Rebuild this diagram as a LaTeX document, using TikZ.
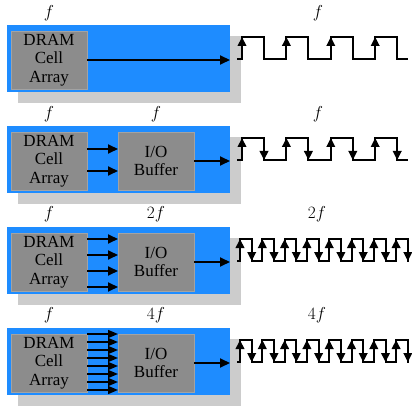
\documentclass[tikz,border=0pt]{standalone}
\usepackage{fontspec}
\setmainfont{Liberation Serif}
\usetikzlibrary{arrows.meta}
\definecolor{chipblue}{RGB}{30,140,255}
\definecolor{cellgray}{RGB}{140,140,140}
\definecolor{shadowgray}{RGB}{204,204,204}
\tikzset{
  shadowbox/.style={fill=shadowgray, draw=none, anchor=north west, minimum width=223pt, minimum height=67pt, inner sep=0pt, outer sep=0pt},
  chipbox/.style={fill=chipblue, draw=none, anchor=north west, minimum width=223pt, minimum height=67pt, inner sep=0pt, outer sep=0pt},
  cellbox/.style={fill=cellgray, draw=cellgray!80!white, line width=0.6pt, anchor=north west, minimum width=76pt, minimum height=58pt, inner sep=0pt, outer sep=0pt, align=center, font=\fontsize{17}{18.5}\selectfont},
  freqlab/.style={font=\fontsize{17}{19}\selectfont, inner sep=0pt},
  sig/.style={line width=2pt, -{Triangle[length=10pt,width=9pt]}},
  wave/.style={line width=2pt, line join=miter},
  edge/.style={line width=2pt, -{Triangle[length=9pt,width=8.5pt]}},
}
\begin{document}
\begin{tikzpicture}[x=1pt,y=-1pt]
\useasboundingbox (0,0) rectangle (412,406);

% ---------- Row 1 ----------
\node[shadowbox] (s1) at (18,36) {};
\node[chipbox] (b1) at (7,25) {};
\node[cellbox] (d1) at (11,31) {DRAM\\Cell\\Array};
\node[freqlab] (l1a) at (49,13) {$f$};
\node[freqlab] (l1w) at (318,13) {$f$};
\draw[sig] (d1.east) -- (d1.east -| b1.east);
\draw[wave] (237,59) foreach \k in {0,...,3} { -- ({242+44.4*\k},59) -- ({242+44.4*\k},37) -- ({264+44.4*\k},37) -- ({264+44.4*\k},59) } -- (408,59);
\foreach \k in {0,...,3} { \draw[edge] ({242+44.4*\k},59) -- ({242+44.4*\k},37); }

% ---------- Row 2 ----------
\node[shadowbox] (s2) at (18,137) {};
\node[chipbox] (b2) at (7,126) {};
\node[cellbox] (d2) at (11,132) {DRAM\\Cell\\Array};
\node[cellbox] (o2) at (118,132) {I/O\\Buffer};
\node[freqlab] (l2a) at (49,114) {$f$};
\node[freqlab] (l2b) at (156,114) {$f$};
\node[freqlab] (l2w) at (318,114) {$f$};
\foreach \yy in {149,171} { \draw[sig] (d2.east |- 0,\yy) -- (o2.west |- 0,\yy); }
\draw[sig] (o2.east) -- (o2.east -| b2.east);
\draw[wave] (237,160) foreach \k in {0,...,3} { -- ({242+44.4*\k},160) -- ({242+44.4*\k},138) -- ({264+44.4*\k},138) -- ({264+44.4*\k},160) } -- (408,160);
\foreach \k in {0,...,3} {
  \draw[edge] ({242+44.4*\k},160) -- ({242+44.4*\k},138);
  \draw[edge] ({264+44.4*\k},138) -- ({264+44.4*\k},160);
}

% ---------- Row 3 ----------
\node[shadowbox] (s3) at (18,238) {};
\node[chipbox] (b3) at (7,227) {};
\node[cellbox] (d3) at (11,233) {DRAM\\Cell\\Array};
\node[cellbox] (o3) at (118,233) {I/O\\Buffer};
\node[freqlab] (l3a) at (49,214) {$f$};
\node[freqlab] (l3b) at (156,214) {$2f$};
\node[freqlab] (l3w) at (317,214) {$2f$};
\foreach \yy in {239,255,271,287} { \draw[sig] (d3.east |- 0,\yy) -- (o3.west |- 0,\yy); }
\draw[sig] (o3.east) -- (o3.east -| b3.east);
\draw[wave] (237,261) foreach \k in {0,...,7} { -- ({240+22.3*\k},261) -- ({240+22.3*\k},239) -- ({251.7+22.3*\k},239) -- ({251.7+22.3*\k},261) } -- (409,261);
\foreach \k in {0,...,7} {
  \draw[edge] ({240+22.3*\k},261) -- ({240+22.3*\k},239);
  \draw[edge] ({251.7+22.3*\k},239) -- ({251.7+22.3*\k},261);
}

% ---------- Row 4 ----------
\node[shadowbox] (s4) at (18,339) {};
\node[chipbox] (b4) at (7,328) {};
\node[cellbox] (d4) at (11,334) {DRAM\\Cell\\Array};
\node[cellbox] (o4) at (118,334) {I/O\\Buffer};
\node[freqlab] (l4a) at (49,315) {$f$};
\node[freqlab] (l4b) at (156,315) {$4f$};
\node[freqlab] (l4w) at (317,315) {$4f$};
\foreach \k in {0,...,7} { \draw[line width=1.4pt, -{Triangle[length=10pt,width=8pt]}] (d4.east |- 0,{334+8*\k}) -- (o4.west |- 0,{334+8*\k}); }
\draw[sig] (o4.east) -- (o4.east -| b4.east);
\draw[wave] (237,362) foreach \k in {0,...,7} { -- ({240+22.3*\k},362) -- ({240+22.3*\k},340) -- ({251.7+22.3*\k},340) -- ({251.7+22.3*\k},362) } -- (409,362);
\foreach \k in {0,...,7} {
  \draw[edge] ({240+22.3*\k},362) -- ({240+22.3*\k},340);
  \draw[edge] ({251.7+22.3*\k},340) -- ({251.7+22.3*\k},362);
}
\end{tikzpicture}
\end{document}
